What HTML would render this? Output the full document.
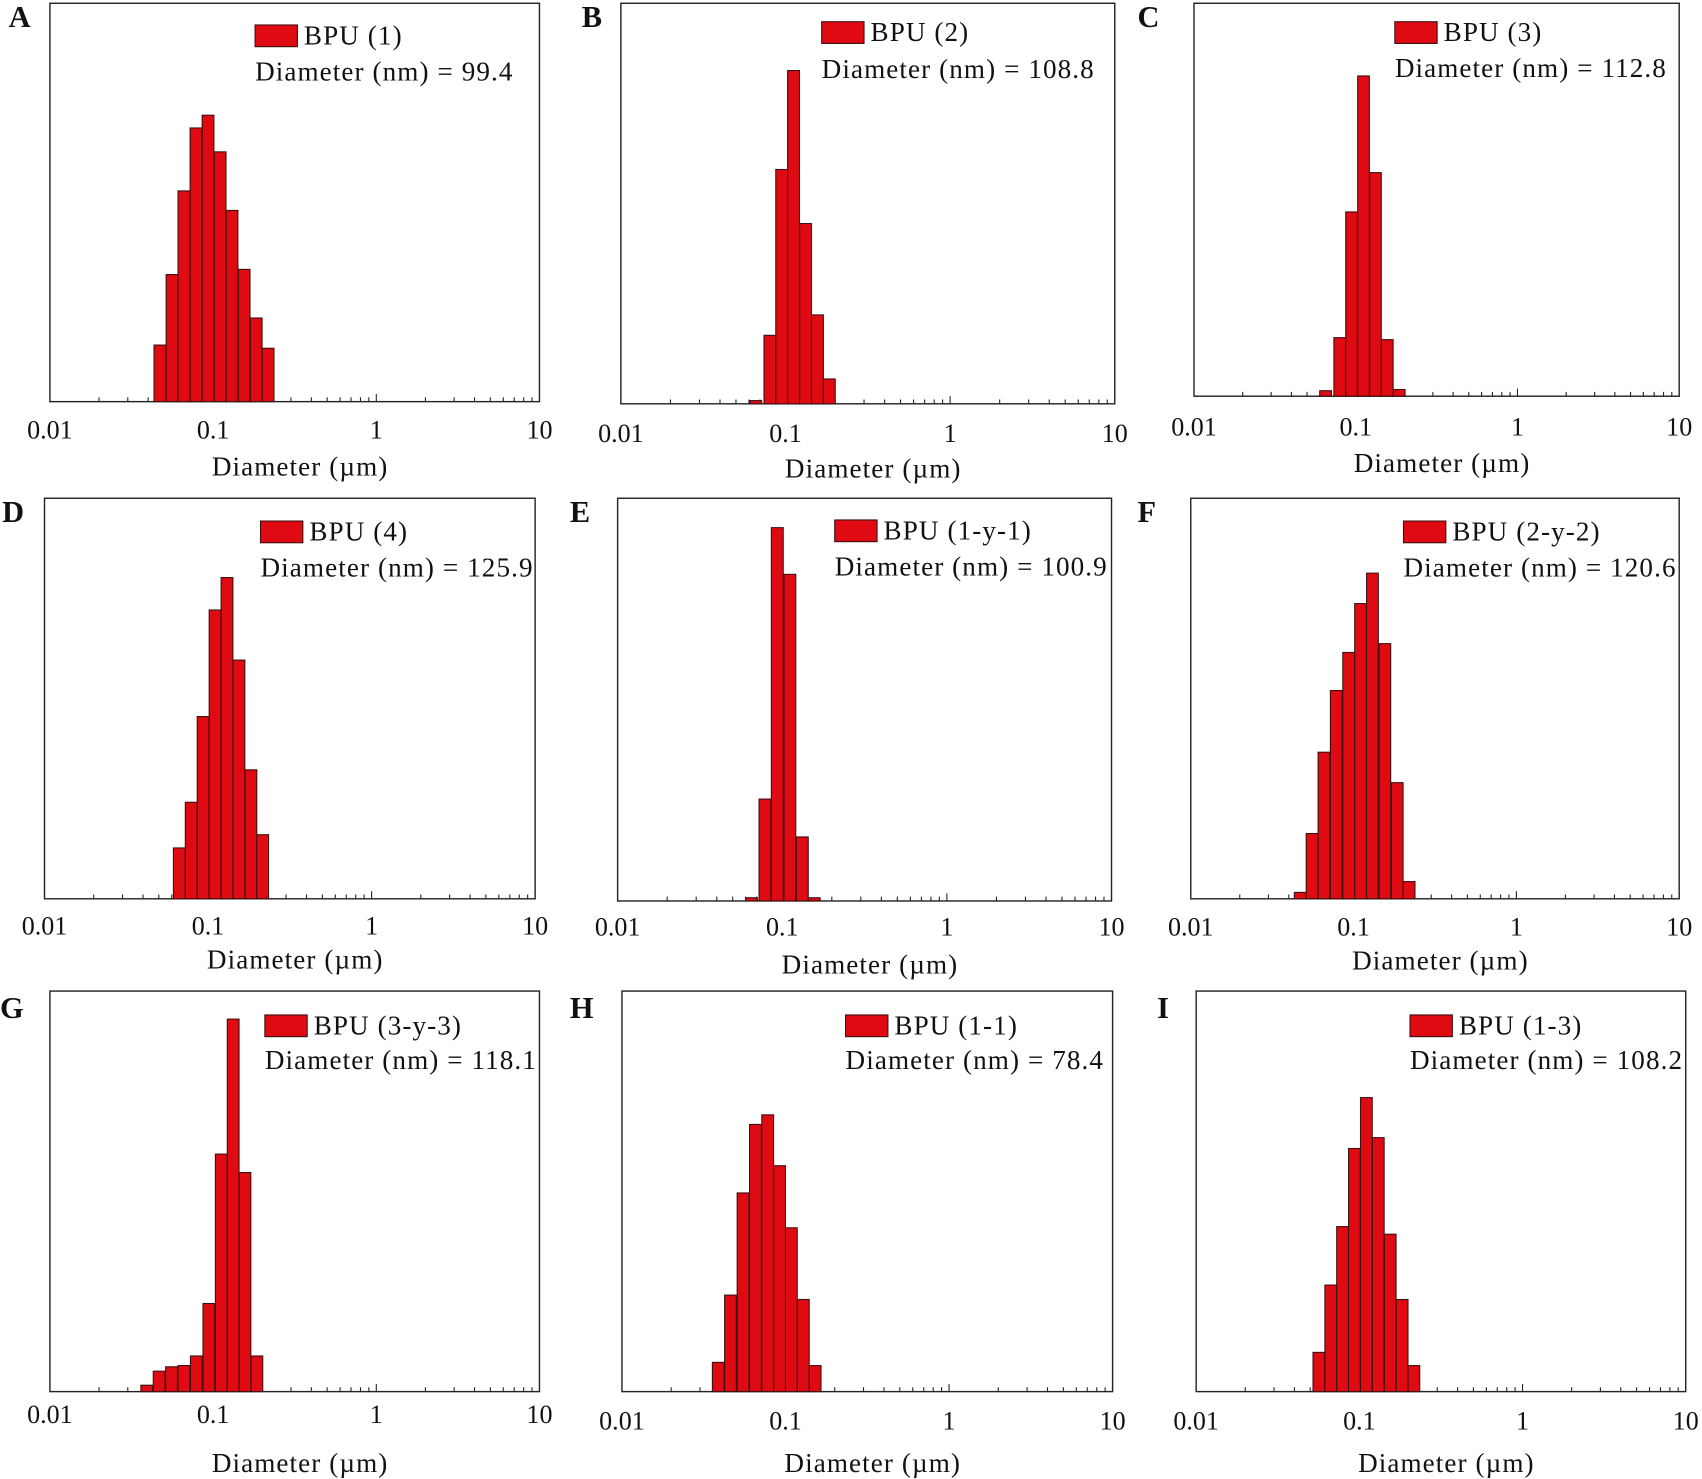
<!DOCTYPE html>
<html><head><meta charset="utf-8"><style>
html,body{margin:0;padding:0;background:#fff}
svg{display:block}
text{font-family:"Liberation Serif","DejaVu Serif",serif;fill:#111}
</style></head><body>
<svg id="fig" width="1702" height="1479" viewBox="0 0 1568 1362.5" preserveAspectRatio="none" xmlns="http://www.w3.org/2000/svg"></svg>
<script>
// ---- data (diameter bin centers in µm, intensity in % of axis) ----
const labels = ["BPU (1)","BPU (2)","BPU (3)","BPU (4)","BPU (1-y-1)","BPU (2-y-2)","BPU (3-y-3)","BPU (1-1)","BPU (1-3)"];
const meanDiameters = ["99.4","108.8","112.8","125.9","100.9","120.6","118.1","78.4","108.2"];
const panelLetters = ["A","B","C","D","E","F","G","H","I"];
const tickLabels = ["0.01","0.1","1","10"];
const tickValues = [0.01,0.1,1,10];
const diamA = [0.0472,0.0560,0.0662,0.0785,0.0931,0.1104,0.1306,0.1549,0.1837,0.2173];
const valsA = [14.2,31.9,52.9,68.7,71.9,62.7,48.0,33.2,21.0,13.4];
const diamB = [0.0659,0.0804,0.0948,0.1119,0.1324,0.1563,0.1845];
const valsB = [0.8,17.1,58.5,83.2,45.0,22.2,6.2];
const diamC = [0.0651,0.0796,0.0942,0.1117,0.1324,0.1567,0.1858];
const valsC = [1.4,14.9,46.9,81.5,56.9,14.4,1.7];
const diamD = [0.0667,0.0789,0.0933,0.1104,0.1306,0.1545,0.1828,0.2158];
const valsD = [12.7,24.1,45.5,72.1,80.2,59.6,32.2,16.0];
const diamE = [0.0650,0.0785,0.0933,0.1112,0.1324,0.1563];
const valsE = [0.8,25.3,92.7,81.1,15.9,0.8];
const diamF = [0.0470,0.0556,0.0658,0.0783,0.0933,0.1104,0.1306,0.1556,0.1854,0.2193];
const valsF = [1.6,16.3,36.6,52.0,61.5,73.7,81.3,63.7,29.0,4.3];
const diamG = [0.0392,0.0467,0.0556,0.0662,0.0789,0.0942,0.1122,0.1327,0.1567,0.1854];
const valsG = [1.6,5.1,6.2,6.5,8.9,22.0,59.3,93.0,54.7,8.9];
const diamH = [0.0388,0.0461,0.0550,0.0655,0.0778,0.0920,0.1086,0.1285,0.1517];
const valsH = [7.3,24.1,49.6,66.7,69.1,56.4,40.9,23.0,6.5];
const diamI = [0.0565,0.0668,0.0789,0.0933,0.1104,0.1306,0.1545,0.1828,0.2158];
const valsI = [9.8,26.6,41.2,60.7,73.4,63.4,39.3,23.0,6.5];
const allDiam = [diamA,diamB,diamC,diamD,diamE,diamF,diamG,diamH,diamI];
const allVals = [valsA,valsB,valsC,valsD,valsE,valsF,valsG,valsH,valsI];

// ---- layout ----
const boxes = [[46,3,497,370],[572,3,1027,372],[1100,3,1547,365],[41,459,493,828],[569,459,1024,830],[1097,459,1547,828],[46,913,497,1282],[573,913,1025,1282],[1102,913,1553,1282]];
const legendPos = [[235,23,74],[757,20,72],[1285,20,71],[240,480,531],[769,479,530],[1293,480,531],[244,935,985],[779,935,985],[1299,935,985]];
const letterPos = [[8,25],[536,25],[1048,25],[2,481],[525,481],[1048,481],[0,938],[525,938],[1066,938]];
const tickBase = [404,407,401,861,862,862,1311,1317,1317];
const titleBase = [438,440,435,892,897,893,1356,1356,1356];
const halfW = 0.036;

const NS="http://www.w3.org/2000/svg";
const svg=document.getElementById('fig');
function mk(tag,attrs,parent){const e=document.createElementNS(NS,tag);for(const k in attrs)e.setAttribute(k,attrs[k]);(parent||svg).appendChild(e);return e;}

boxes.forEach((b,p)=>{
  const [x0,y0,x1,y1]=b;
  const g=mk('g',{});
  
  
  const xs=v=>x0+(Math.log10(v)+2)/3*(x1-x0);
  const ys=v=>y1-v/100*(y1-y0);
  const frame=mk('rect',{x:x0,y:y0,width:x1-x0,height:y1-y0,fill:'none',stroke:'#222','stroke-width':1.3},g);
  
  
  for(let d=-2;d<1;d++){for(let m=1;m<=9;m++){const v=m*Math.pow(10,d);if(v<=0.01)continue;const x=xs(v);const len=m===1?7:4;
    const t=mk('line',{x1:x,x2:x,y1:y1,y2:y1-len,stroke:'#222','stroke-width':1},g);
    
    }}
  allDiam[p].forEach((d,i)=>{
    const xl=xs(d*Math.pow(10,-halfW)), xr=xs(d*Math.pow(10,halfW)), yt=ys(allVals[p][i]);
    const r=mk('rect',{x:xl,y:yt,width:xr-xl,height:y1-yt,fill:'#e00a12',stroke:'#3a1010','stroke-width':1},g);
    
    
  });
  tickValues.forEach((v,i)=>{
    const t=mk('text',{x:xs(v),y:tickBase[p],'font-size':24,'text-anchor':'middle'},g);
    t.textContent=tickLabels[i];
    
    
  });
  const tt=mk('text',{x:(x0+x1)/2+5,y:titleBase[p],'font-size':25,'letter-spacing':1,'text-anchor':'middle'},g);
  tt.textContent='Diameter (µm)';
  
  
  const [lx,ly,lb]=legendPos[p];
  const lr=mk('rect',{x:lx,y:ly,width:39,height:20,fill:'#e00a12',stroke:'#3a1010','stroke-width':1},g);
  
  
  const l1=mk('text',{x:lx+45,y:ly+18,'font-size':25,'letter-spacing':1},g);
  l1.textContent=labels[p];
  
  
  const l2=mk('text',{x:lx,y:lb,'font-size':25,'letter-spacing':1},g);
  l2.textContent='Diameter (nm) = '+meanDiameters[p];
  
  
  const pl=mk('text',{x:letterPos[p][0],y:letterPos[p][1],'font-size':28,'font-weight':'bold'},g);
  pl.textContent=panelLetters[p];
  
  
});
</script>
</body></html>
